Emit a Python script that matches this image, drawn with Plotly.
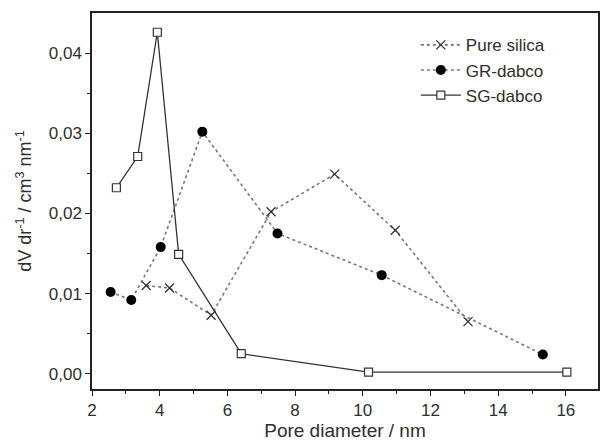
import plotly.graph_objects as go

# Data
pure_x = [3.60, 4.29, 5.52, 7.29, 9.17, 10.96, 13.11]
pure_y = [0.0110, 0.0107, 0.0073, 0.0202, 0.0249, 0.0179, 0.0065]

gr_x = [2.55, 3.16, 4.03, 5.26, 7.48, 10.56, 15.32]
gr_y = [0.0102, 0.0092, 0.0158, 0.0302, 0.0175, 0.0123, 0.0024]

sg_x = [2.72, 3.35, 3.93, 4.56, 6.41, 10.17, 16.03]
sg_y = [0.0232, 0.0271, 0.0426, 0.0149, 0.0025, 0.0002, 0.0002]

x_ticks = [2, 4, 6, 8, 10, 12, 14, 16]
y_ticks = [0.00, 0.01, 0.02, 0.03, 0.04]
y_ticktext = ["0,00", "0,01", "0,02", "0,03", "0,04"]

FONT = "Liberation Sans, Arial, sans-serif"
TXT = "#2e2e2e"

fig = go.Figure()
fig.add_trace(go.Scatter(
    x=pure_x, y=pure_y, name="Pure silica", mode="lines+markers",
    line=dict(color="#777777", width=1.6, dash="dot"),
    marker=dict(symbol="x-thin", size=9, line=dict(color="#333333", width=1.3)),
))
fig.add_trace(go.Scatter(
    x=gr_x, y=gr_y, name="GR-dabco", mode="lines+markers",
    line=dict(color="#777777", width=1.6, dash="dot"),
    marker=dict(symbol="circle", size=10, color="#000000"),
))
fig.add_trace(go.Scatter(
    x=sg_x, y=sg_y, name="SG-dabco", mode="lines+markers",
    line=dict(color="#333333", width=1.3),
    marker=dict(symbol="square", size=8, color="white",
                line=dict(color="#333333", width=1.2)),
))

fig.update_layout(
    width=601, height=444,
    margin=dict(l=92, r=1, t=13, b=55),
    paper_bgcolor="white", plot_bgcolor="white",
    font=dict(family=FONT, size=17, color=TXT),
    showlegend=True,
    legend=dict(x=0.64, y=0.962, xanchor="left", yanchor="top",
                bgcolor="rgba(0,0,0,0)", font=dict(size=17, color=TXT),
                tracegroupgap=0, itemwidth=40),
)
fig.update_xaxes(
    range=[2, 16.95], tickvals=x_ticks, ticks="outside", ticklen=5,
    tickwidth=1.3, tickcolor="#222", showline=True, linecolor="#222",
    linewidth=1.5, mirror=True, showgrid=False, zeroline=False,
    minor=dict(dtick=1, tick0=1, ticks="outside", ticklen=3, tickcolor="#222", tickwidth=1.2),
    title=dict(text="Pore diameter / nm", font=dict(size=19, color=TXT), standoff=5),
    tickfont=dict(size=17, color=TXT),
)
fig.update_yaxes(
    range=[-0.0019, 0.045], tickvals=y_ticks, ticktext=y_ticktext,
    ticks="outside", ticklen=5, tickwidth=1.3, tickcolor="#222",
    showline=True, linecolor="#222", linewidth=1.5, mirror=True,
    showgrid=False, zeroline=False,
    minor=dict(tickvals=[0.005, 0.015, 0.025, 0.035], ticks="outside", ticklen=3, tickcolor="#222", tickwidth=1.2),
    title=dict(text="dV dr<sup>-1</sup> / cm<sup>3</sup> nm<sup>-1</sup>", font=dict(size=18, color=TXT), standoff=12),
    tickfont=dict(size=17, color=TXT),
)

fig.write_html("out.html")
